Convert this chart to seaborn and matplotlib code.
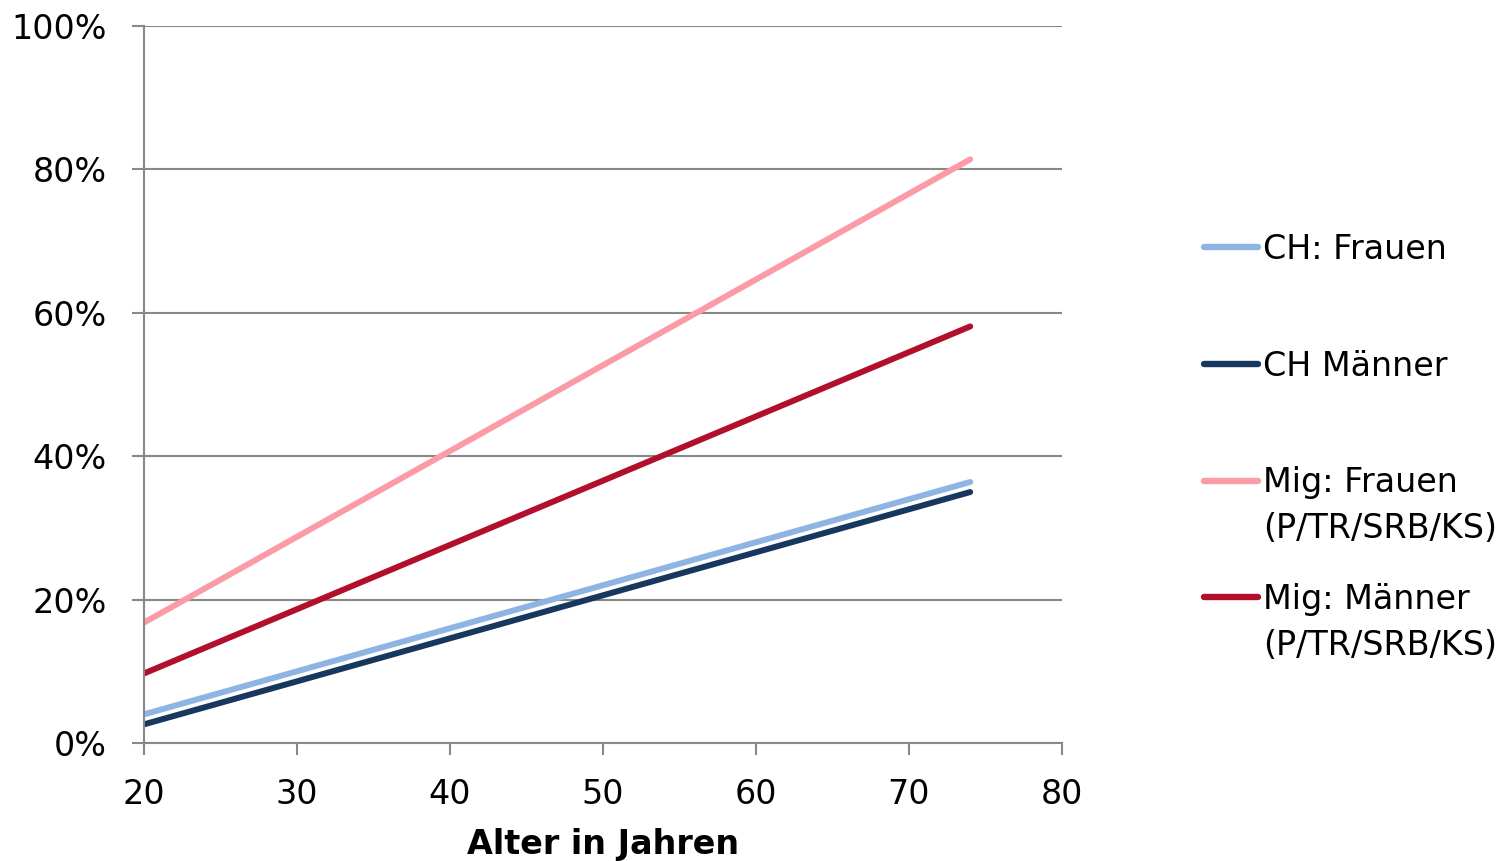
import numpy as np
import pandas as pd
import matplotlib
matplotlib.use("Agg")
import matplotlib.pyplot as plt
import seaborn as sns

# ---- data ----
ages = [20, 74]
series_names = ["CH: Frauen", "CH Männer", "Mig: Frauen", "Mig: Männer"]
ch_frauen = [4.0, 36.4]
ch_maenner = [2.6, 35.0]
mig_frauen = [16.8, 81.4]
mig_maenner = [9.7, 58.1]
second_line = "(P/TR/SRB/KS)"
x_ticks = [20, 30, 40, 50, 60, 70, 80]
y_ticks = [0, 20, 40, 60, 80, 100]
x_label = "Alter in Jahren"
colors = ["#8EB4E3", "#17375E", "#FA9BA6", "#B10F2C"]

values = [ch_frauen, ch_maenner, mig_frauen, mig_maenner]
df = pd.DataFrame({
    "age": ages * len(series_names),
    "value": [v for vals in values for v in vals],
    "series": [s for s in series_names for _ in ages],
})

sns.set_theme(style="white")
plt.rcParams["font.family"] = ["DejaVu Sans"]
plt.rcParams["text.color"] = "black"

FS = 24
GRAY = "#888888"

fig = plt.figure(figsize=(15.11, 8.61), dpi=100)
ax = fig.add_axes([144 / 1511, 1 - 743 / 861, (1062 - 144) / 1511, (743 - 26) / 861])

sns.lineplot(data=df, x="age", y="value", hue="series", hue_order=series_names,
             palette=colors, linewidth=4.3, ax=ax, legend=True)
for line in ax.get_lines():
    line.set_solid_capstyle("round")

ax.set_xlim(20, 80)
ax.set_ylim(0, 100)
ax.set_xticks(x_ticks)
ax.set_xticklabels([str(t) for t in x_ticks], fontsize=FS)
ax.set_yticks(y_ticks)
ax.set_yticklabels([f"{t}%" for t in y_ticks], fontsize=FS)
ax.set_xlabel(x_label, fontsize=FS, fontweight="bold", labelpad=12.6, color="black")
ax.set_ylabel("")

ax.grid(axis="y", color=GRAY, linewidth=1.5)
ax.grid(axis="x", visible=False)
ax.set_axisbelow(True)
for side in ["top", "right"]:
    ax.spines[side].set_visible(False)
for side in ["left", "bottom"]:
    ax.spines[side].set_color(GRAY)
    ax.spines[side].set_linewidth(1.5)
ax.tick_params(axis="x", direction="out", length=8.6, width=1.5, color=GRAY, pad=16.3, labelcolor="black", bottom=True)
ax.tick_params(axis="y", direction="out", length=8.6, width=1.5, color=GRAY, pad=18, labelcolor="black", left=True)

handles, labels = ax.get_legend_handles_labels()
for h in handles:
    h.set_solid_capstyle("round")
    h.set_linewidth(4.6)
leg = ax.legend(handles, labels, loc="upper left",
                bbox_to_anchor=(1204 / 1511, 1 - 233 / 861), bbox_transform=fig.transFigure,
                frameon=False, fontsize=FS, handlelength=1.62, handletextpad=0.15,
                labelspacing=2.51, borderpad=0, borderaxespad=0, labelcolor="black")

fig.canvas.draw()
renderer = fig.canvas.get_renderer()
inv = fig.transFigure.inverted()
for idx in [2, 3]:
    bb = leg.get_texts()[idx].get_window_extent(renderer)
    x0, y0 = inv.transform((bb.x0, bb.y0 - 46))
    fig.text(x0, y0, second_line, ha="left", va="bottom", fontsize=FS, color="black")

fig.savefig("out.png", dpi=100, facecolor="white")
